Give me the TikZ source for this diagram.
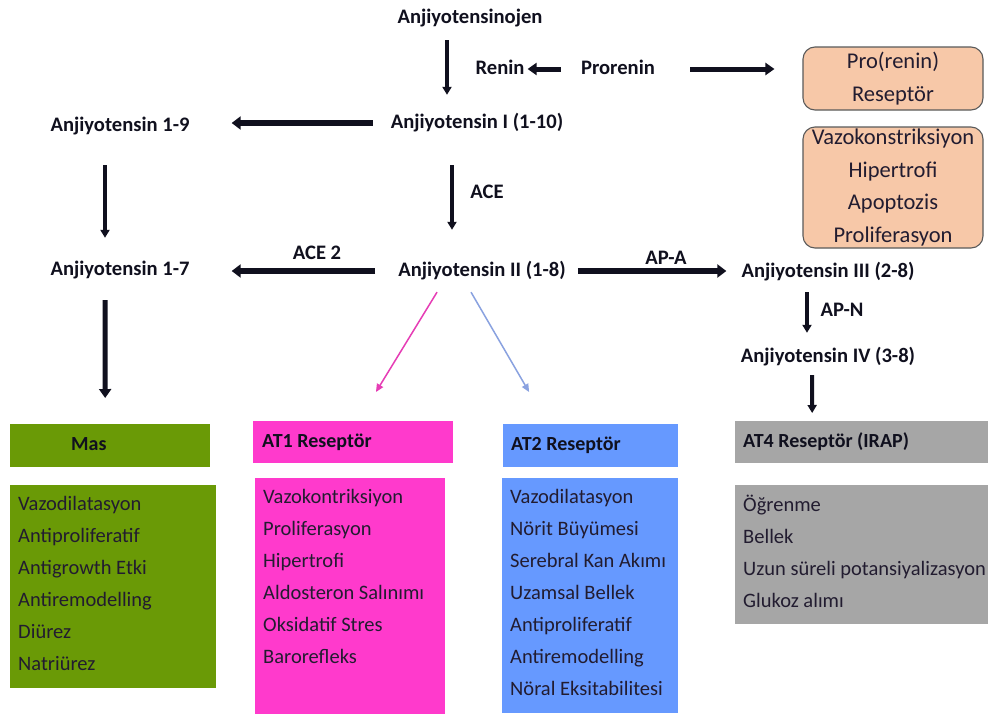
\documentclass[tikz,border=0pt]{standalone}
\usepackage{fontspec}
\setmainfont{Carlito}
\usetikzlibrary{arrows.meta,calc}
\definecolor{ink}{HTML}{10101E}
\definecolor{bodyink}{HTML}{221C30}
\definecolor{peach}{HTML}{F7C8A8}
\definecolor{peachline}{HTML}{5A5A5A}
\definecolor{masg}{HTML}{6A9A06}
\definecolor{at1c}{HTML}{FF3ACC}
\definecolor{at2c}{HTML}{6699FF}
\definecolor{at4c}{HTML}{A6A6A6}
\definecolor{pinkarr}{HTML}{E63DB5}
\definecolor{bluearr}{HTML}{8AA2E0}
\newcommand{\firststrut}{\rule{0pt}{16pt}}
\newcommand{\normspace}{\spaceskip=0pt\xspaceskip=0pt\relax}
\begin{document}
\begin{tikzpicture}[x=1pt,y=-1pt,
  lbl/.style={font=\bfseries\fontsize{20.6}{24}\selectfont, inner sep=2pt, text height=15pt, text depth=5pt, text=ink},
  thickarr/.style={draw=ink, line width=6pt, -{Triangle[length=9pt,width=13pt]}},
  midarr/.style={draw=ink, line width=5pt, -{Triangle[length=9pt,width=12pt]}},
  thinarr/.style={draw=ink, line width=3.3pt, -{Triangle[length=8pt,width=9pt]}},
  colarr/.style={line width=1.5pt, -{Triangle[length=8pt,width=7pt]}},
  rbox/.style={draw=peachline, line width=1.1pt, fill=peach, rounded corners=12pt, align=center, text=bodyink, font=\fontsize{22.5}{32.6}\selectfont, inner sep=0pt},
  hdr/.style={anchor=north west, inner ysep=0pt, font=\bfseries\fontsize{20}{24}\selectfont, align=left, text=ink, text height=15pt, text depth=5pt},
  bodybox/.style={anchor=north west, inner sep=0pt},
  btxt/.style={anchor=north west, inner sep=0pt, align=left, text=bodyink, font=\fontsize{20.5}{32}\selectfont}
]
\useasboundingbox[fill=white] (0,0) rectangle (988,715);

% main labels
\node[lbl] (ajn) at (470,18) {Anjiyotensinojen};
\node[lbl] (renin) at (500,69) {Renin};
\node[lbl] (prorenin) at (618,69) {Prorenin};
\node[lbl] (ang1) at (477,123) {Anjiyotensin I (1-10)};
\node[lbl] (a19) at (120,126) {Anjiyotensin 1-9};
\node[lbl] (a17) at (120,270) {Anjiyotensin 1-7};
\node[lbl] (ace) at (487,193) {ACE};
\node[lbl] (ang2) at (482,271) {Anjiyotensin II (1-8)};
\node[lbl] (ace2) at (317,254) {ACE 2};
\node[lbl] (apa) at (666,259) {AP-A};
\node[lbl] (ang3) at (828,272) {Anjiyotensin III (2-8)};
\node[lbl] (apn) at (842,311) {AP-N};
\node[lbl] (ang4) at (828,357) {Anjiyotensin IV (3-8)};

% top right boxes
\node[rbox, minimum width=180pt, minimum height=63pt] (prr) at (893,78.5) {Pro(renin)\\Reseptör};
\node[rbox, minimum width=180pt, minimum height=121pt] (eff) at (893,187.5) {Vazokonstriksiyon\\Hipertrofi\\Apoptozis\\Proliferasyon};

% header boxes
\node[hdr, fill=masg, minimum height=43pt, inner xsep=61pt, text width=78pt] (mash) at (10,424) {\normspace Mas};
\node[hdr, fill=at1c, minimum height=42pt, inner xsep=9pt, text width=182pt] (at1h) at (253,421) {\normspace AT1 Reseptör};
\node[hdr, fill=at2c, minimum height=43pt, inner xsep=8pt, text width=159pt] (at2h) at (503,424) {\normspace AT2 Reseptör};
\node[hdr, fill=at4c, minimum height=42pt, inner xsep=8pt, text width=237pt] (at4h) at (735,421) {\normspace AT4 Reseptör (IRAP)};

% body boxes
\node[bodybox, fill=masg, minimum width=206pt, minimum height=203pt] (masb) at (10,485) {};
\node[bodybox, fill=at1c, minimum width=190pt, minimum height=236pt] (at1b) at (255,478) {};
\node[bodybox, fill=at2c, minimum width=176pt, minimum height=235pt] (at2b) at (502,478) {};
\node[bodybox, fill=at4c, minimum width=253pt, minimum height=139pt] (at4b) at (735,485) {};

\node[btxt] (mast) at (18,494) {\firststrut Vazodilatasyon\\Antiproliferatif\\Antigrowth Etki\\Antiremodelling\\Diürez\\Natriürez};
\node[btxt] (at1t) at (263,487) {\firststrut Vazokontriksiyon\\Proliferasyon\\Hipertrofi\\Aldosteron Salınımı\\Oksidatif Stres\\Barorefleks};
\node[btxt] (at2t) at (510,487) {\firststrut Vazodilatasyon\\Nörit Büyümesi\\Serebral Kan Akımı\\Uzamsal Bellek\\Antiproliferatif\\Antiremodelling\\Nöral Eksitabilitesi};
\node[btxt] (at4t) at (743,495) {\firststrut Öğrenme\\Bellek\\Uzun süreli potansiyalizasyon\\Glukoz alımı};

% connectors
\draw[thinarr, shorten <=10pt, shorten >=16pt] ([xshift=-23pt]ajn.south) -- ([xshift=-30pt]ang1.north);
\draw[midarr, shorten <=18pt, shorten >=1pt] (prorenin.west) -- (prorenin.west -| renin.east);
\draw[midarr, shorten <=33pt, shorten >=28pt] (prorenin.east) -- (prorenin.east -| prr.west);
\draw[thickarr, shorten <=16pt, shorten >=40pt] (ang1.west) -- (ang1.west -| a19.east);
\draw[thinarr, shorten <=27pt, shorten >=20pt] ([xshift=-15pt]a19.south) -- ([xshift=-15pt]a17.north);
\draw[thinarr, shorten <=30pt, shorten >=29pt] ([xshift=-25pt]ang1.south) -- ([xshift=-30pt]ang2.north);
\draw[thickarr, shorten <=21pt, shorten >=40pt] (ang2.west) -- (ang2.west -| a17.east);
\draw[thickarr, shorten <=10pt, shorten >=13pt] (ang2.east) -- (ang2.east -| ang3.west);
\draw[thinarr, shorten <=8pt, shorten >=12pt] ([xshift=-21pt]ang3.south) -- ([xshift=-21pt]ang4.north);
\draw[thinarr, line width=4pt, shorten <=6pt, shorten >=8pt] ([xshift=-16pt]ang4.south) -- ([xshift=-49.5pt]at4h.north);
\draw[midarr, shorten <=18pt, shorten >=26pt] ([xshift=-15pt]a17.south) -- ([xshift=-5pt]mash.north);
\draw[colarr, draw=pinkarr, fill=pinkarr, shorten <=10.5pt, shorten >=34pt] ([xshift=-39.5pt]ang2.south) -- ([xshift=5pt]at1h.north);
\draw[colarr, draw=bluearr, fill=bluearr, shorten <=10.4pt, shorten >=37pt] ([xshift=-16.2pt]ang2.south) -- ([xshift=-43pt]at2h.north);
\end{tikzpicture}
\end{document}
